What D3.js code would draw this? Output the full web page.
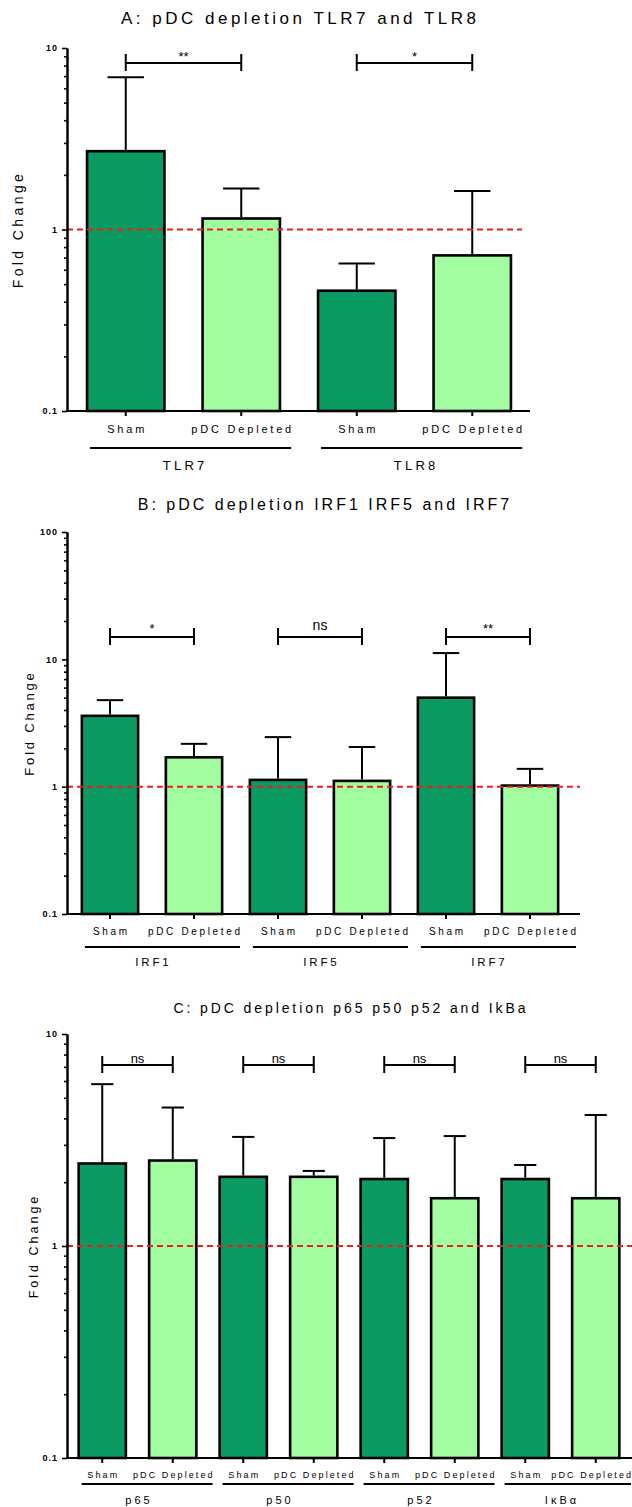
<!DOCTYPE html>
<html>
<head>
<meta charset="utf-8">
<script src="https://cdn.jsdelivr.net/npm/d3@7"></script>
<style>
  body { margin: 0; background: #fff; }
  svg text { font-family: "Liberation Sans", Arial, Helvetica, sans-serif; fill: #000; }
</style>
</head>
<body>
<svg id="fig" width="632" height="1507"></svg>
<script>
// ---- data -------------------------------------------------------------
const conditions = ["Sham", "pDC Depleted"];

// Panel A: toll-like receptors
const genesA = ["TLR7", "TLR8"];
const meanA  = [2.7, 1.15, 0.46, 0.72];      // fold change (bar height)
const upperA = [6.9, 1.68, 0.65, 1.63];      // top of error bar
const sigA   = ["**", "*"];

// Panel B: interferon regulatory factors
const genesB = ["IRF1", "IRF5", "IRF7"];
const meanB  = [3.6, 1.7, 1.13, 1.11, 5.0, 1.02];
const upperB = [4.78, 2.17, 2.45, 2.05, 11.2, 1.38];
const sigB   = ["*", "ns", "**"];

// Panel C: NF-kB pathway
const genesC = ["p65", "p50", "p52", "IκBα"];
const meanC  = [2.45, 2.53, 2.12, 2.12, 2.07, 1.68, 2.07, 1.68];
const upperC = [5.8, 4.5, 3.27, 2.26, 3.23, 3.3, 2.41, 4.15];
const sigC   = ["ns", "ns", "ns", "ns"];

// ---- styling ---------------------------------------------------------
const fillFor = { "Sham": "#0b9a62", "pDC Depleted": "#a1fd9f" };
const refColor = "#f01c1c";
const W = 632;

// ---- panel layouts ---------------------------------------------------
const panels = [
  {
    title: "A: pDC depletion TLR7 and TLR8", genes: genesA, mean: meanA, upper: upperA, sig: sigA,
    domain: [0.1, 10], yTop: 48, yBot: 411, axisX: 67, band: [68, 530], axisEnd: 530, refEnd: 522,
    titleY: 24, titleSize: 17, titleLs: 3.5,
    yLab: { x: 18, size: 14, ls: 3.4 },
    xLab: { y: 433, size: 11, ls: 2.8 },
    groupLineY: 448, groupLab: { y: 470, size: 13, ls: 3.3 },
    bracketY: 63, astSize: 13, astDy: -2.3, nsSize: 14, nsDy: -7
  },
  {
    title: "B: pDC depletion IRF1 IRF5 and IRF7", genes: genesB, mean: meanB, upper: upperB, sig: sigB,
    domain: [0.1, 100], yTop: 532, yBot: 914, axisX: 67, band: [68, 572], axisEnd: 580, refEnd: 580,
    titleY: 510, titleSize: 16, titleLs: 3,
    yLab: { x: 29, size: 13, ls: 2.8 },
    xLab: { y: 935, size: 10, ls: 2.65 },
    groupLineY: 947, groupLab: { y: 966, size: 11.5, ls: 2.8 },
    bracketY: 637, astSize: 13, astDy: -4.2, nsSize: 14, nsDy: -7
  },
  {
    title: "C: pDC depletion p65 p50 p52 and IkBa", genes: genesC, mean: meanC, upper: upperC, sig: sigC,
    domain: [0.1, 10], yTop: 1034, yBot: 1458, axisX: 67, band: [67, 631], axisEnd: 632, refEnd: 632,
    titleY: 1013, titleSize: 14, titleLs: 2.9,
    yLab: { x: 33, size: 12.5, ls: 3 },
    xLab: { y: 1478, size: 9, ls: 2.1 },
    groupLineY: 1484, groupLab: { y: 1504, size: 11, ls: 3 },
    bracketY: 1065, astSize: 13, astDy: -2.5, nsSize: 13, nsDy: -2.5
  }
];

const svg = d3.select("#fig");

panels.forEach(p => drawPanel(p));

function drawPanel(p) {
  const g = svg.append("g");

  // one band per bar: gene x condition
  const keys = [];
  p.genes.forEach(gn => conditions.forEach(c => keys.push(gn + "|" + c)));
  const rows = keys.map((k, i) => ({
    key: k, gene: k.split("|")[0], cond: k.split("|")[1], mean: p.mean[i], upper: p.upper[i]
  }));

  const x = d3.scaleBand().domain(keys).range(p.band).paddingInner(0.33).paddingOuter(0.165);
  const y = d3.scaleLog().domain(p.domain).range([p.yBot, p.yTop]);
  const cx = k => x(k) + x.bandwidth() / 2;

  // title
  g.append("text")
    .attr("x", (p.axisX + p.axisEnd) / 2 + p.titleLs / 2)
    .attr("y", p.titleY)
    .attr("text-anchor", "middle")
    .attr("font-size", p.titleSize)
    .attr("letter-spacing", p.titleLs)
    .text(p.title);

  // y axis title
  g.append("text")
    .attr("transform", `translate(${p.yLab.x},${(p.yTop + p.yBot) / 2}) rotate(-90)`)
    .attr("text-anchor", "middle")
    .attr("dy", "0.36em")
    .attr("font-size", p.yLab.size)
    .attr("letter-spacing", p.yLab.ls)
    .text("Fold Change");

  // bars
  g.selectAll("rect.bar").data(rows).join("rect")
    .attr("class", "bar")
    .attr("x", d => x(d.key))
    .attr("width", x.bandwidth())
    .attr("y", d => y(d.mean))
    .attr("height", d => y(p.domain[0]) - y(d.mean))
    .attr("fill", d => fillFor[d.cond])
    .attr("stroke", "#000")
    .attr("stroke-width", 2.6);

  // error bars (upper only)
  const capW = x.bandwidth() * 0.47;
  const eb = g.selectAll("g.err").data(rows).join("g").attr("class", "err")
    .attr("stroke", "#000").attr("stroke-width", 2);
  eb.append("line")
    .attr("x1", d => cx(d.key)).attr("x2", d => cx(d.key))
    .attr("y1", d => y(d.mean) - 1.3).attr("y2", d => y(d.upper));
  eb.append("line")
    .attr("x1", d => cx(d.key) - capW / 2).attr("x2", d => cx(d.key) + capW / 2)
    .attr("y1", d => y(d.upper)).attr("y2", d => y(d.upper));

  // reference line at fold change 1
  g.append("line")
    .attr("x1", p.axisX).attr("x2", p.refEnd)
    .attr("y1", y(1)).attr("y2", y(1))
    .attr("stroke", refColor).attr("stroke-width", 2)
    .attr("stroke-dasharray", "6,4");

  // y axis: decades labelled, minor log ticks unlabelled
  const all = y.ticks();
  const majors = all.filter(v => Math.abs(Math.log10(v) - Math.round(Math.log10(v))) < 1e-9);
  const minors = all.filter(v => !majors.includes(v));
  const fmt = v => (v < 1 ? d3.format(".1f")(v) : d3.format("d")(v));

  const yMinor = g.append("g").attr("transform", `translate(${p.axisX},0)`)
    .call(d3.axisLeft(y).tickValues(minors).tickSize(3).tickSizeOuter(0).tickFormat(""));
  const yMajor = g.append("g").attr("transform", `translate(${p.axisX},0)`)
    .call(d3.axisLeft(y).tickValues(majors).tickSize(5).tickSizeOuter(0).tickPadding(4).tickFormat(fmt));
  [yMinor, yMajor].forEach(ax => {
    ax.select(".domain").attr("stroke-width", 2).attr("stroke", "#000");
    ax.selectAll(".tick line").attr("stroke-width", 1.6).attr("stroke", "#000");
  });
  yMajor.selectAll(".tick text")
    .attr("font-family", "'Liberation Sans', Arial, sans-serif")
    .attr("font-size", 9).attr("font-weight", "bold").attr("letter-spacing", 1).attr("fill", "#000");

  // x axis
  const xAx = g.append("g").attr("transform", `translate(0,${p.yBot})`)
    .call(d3.axisBottom(x).tickSize(5).tickSizeOuter(0).tickFormat(""));
  xAx.select(".domain").remove();
  xAx.selectAll(".tick line").attr("stroke-width", 2).attr("stroke", "#000");
  g.append("line")
    .attr("x1", p.axisX - 1).attr("x2", p.axisEnd)
    .attr("y1", p.yBot).attr("y2", p.yBot)
    .attr("stroke", "#000").attr("stroke-width", 2);

  // condition labels under each bar (kept inside the canvas)
  const condText = g.selectAll("text.cond").data(rows).join("text")
    .attr("class", "cond")
    .attr("x", d => cx(d.key) + p.xLab.ls / 2)
    .attr("y", p.xLab.y)
    .attr("text-anchor", "middle")
    .attr("font-size", p.xLab.size)
    .attr("letter-spacing", p.xLab.ls)
    .text(d => d.cond);
  condText.each(function () {
    const bb = this.getBBox();
    const overflow = bb.x + bb.width - p.xLab.ls - (W - 1);
    if (overflow > 0) d3.select(this).attr("x", +d3.select(this).attr("x") - overflow);
  });

  // gene group lines and names
  p.genes.forEach((gn, i) => {
    const kS = gn + "|" + conditions[0], kD = gn + "|" + conditions[1];
    const dNode = condText.filter(d => d.key === kD).node();
    const bb = dNode.getBBox();
    g.append("line")
      .attr("x1", x(kS) + 3).attr("x2", Math.min(bb.x + bb.width - p.xLab.ls, W))
      .attr("y1", p.groupLineY).attr("y2", p.groupLineY)
      .attr("stroke", "#000").attr("stroke-width", 2);
    g.append("text")
      .attr("x", (cx(kS) + cx(kD)) / 2 + p.groupLab.ls / 2)
      .attr("y", p.groupLab.y)
      .attr("text-anchor", "middle")
      .attr("font-size", p.groupLab.size)
      .attr("letter-spacing", p.groupLab.ls)
      .text(gn);

    // significance bracket between sham and depleted
    const x1 = cx(kS), x2 = cx(kD), by = p.bracketY;
    const br = g.append("g").attr("stroke", "#000").attr("stroke-width", 2);
    br.append("line").attr("x1", x1).attr("x2", x2).attr("y1", by).attr("y2", by);
    br.append("line").attr("x1", x1).attr("x2", x1).attr("y1", by - 9).attr("y2", by + 8);
    br.append("line").attr("x1", x2).attr("x2", x2).attr("y1", by - 9).attr("y2", by + 8);
    const s = p.sig[i];
    const isNs = s === "ns";
    g.append("text")
      .attr("x", (x1 + x2) / 2)
      .attr("y", by + (isNs ? p.nsDy : p.astDy))
      .attr("text-anchor", "middle")
      .attr("font-size", isNs ? p.nsSize : p.astSize)
      .text(s);
  });
}
</script>
</body>
</html>
